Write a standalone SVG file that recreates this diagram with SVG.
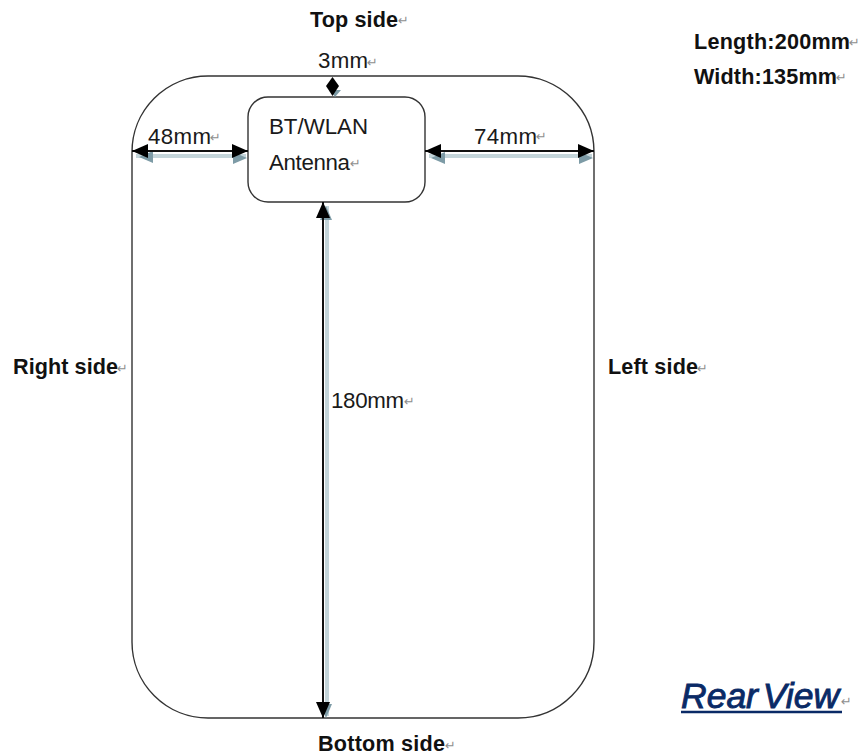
<svg xmlns="http://www.w3.org/2000/svg" width="863" height="756" viewBox="0 0 863 756">
<style>
text{font-family:"Liberation Sans",Arial,sans-serif;fill:#111}
.b{font-weight:700;font-size:21.6px}
.r{font-size:22.3px;fill:#1a1a1a}
.m{font-family:"DejaVu Sans",sans-serif;font-size:13px;fill:#8f8f8f;font-weight:400}
.s{fill:#fff;stroke:#333;stroke-width:1.4}
.l{stroke:#111;stroke-width:2;fill:none}
.sh{stroke:#c4d5da;stroke-width:4;fill:none}
.sa{fill:#7d9ba6}
</style>
<defs>
<marker id="a" viewBox="0 0 16 14" refX="16" refY="7" markerWidth="16" markerHeight="14" markerUnits="userSpaceOnUse" orient="auto-start-reverse"><path d="M0 0L16 7L0 14Z" fill="#000"/></marker>
</defs>
<g id="body"><rect class="s" x="132" y="76" width="462" height="642" rx="76" ry="76"/></g>
<g id="antenna"><rect class="s" x="248" y="97" width="177" height="105" rx="20" ry="20"/>
<text class="r" x="269" y="134" textLength="99">BT/WLAN</text>
<text class="r" x="269" y="170" textLength="81">Antenna</text><text class="m" x="350" y="168">↵</text></g>
<g id="connectors">
<path class="sh" d="M136 156H246"/><path class="sh" d="M429 156H592"/>
<path d="M136 155L150 149V161Z" class="sa" transform="translate(3 2)"/>
<path d="M246 155L232 149V161Z" class="sa" transform="translate(1 3)"/>
<path d="M429 155L443 149V161Z" class="sa" transform="translate(2 3)"/>
<path d="M592 155L578 149V161Z" class="sa" transform="translate(1 3)"/>
<path class="sh" d="M327 206V716"/>
<path d="M326 206L320 220H332Z" class="sa"/>
<path d="M326 718L320 704H332Z" class="sa"/>
<path d="M335 97L330 90H341Z" class="sa"/>
<path class="l" d="M132 151H248" marker-start="url(#a)" marker-end="url(#a)"/>
<path class="l" d="M425 151H594" marker-start="url(#a)" marker-end="url(#a)"/>
<path class="l" d="M323 202V718" marker-start="url(#a)" marker-end="url(#a)"/>
<path d="M332.500 77L339 86L332.500 96L326 86Z" fill="#000"/>
</g>
<g id="labels">
<text class="b" x="310" y="27" textLength="88">Top side</text><text class="m" x="398" y="25">↵</text>
<text class="r" x="318" y="68" textLength="50">3mm</text><text class="m" x="367" y="67">↵</text>
<text class="r" x="148" y="144" textLength="63">48mm</text><text class="m" x="210" y="142">↵</text>
<text class="r" x="474" y="144" textLength="63">74mm</text><text class="m" x="536" y="141">↵</text>
<text class="r" x="331" y="408" textLength="73">180mm</text><text class="m" x="404" y="406">↵</text>
<text class="b" x="13" y="374" textLength="105">Right side</text><text class="m" x="117" y="373">↵</text>
<text class="b" x="608" y="374" textLength="90">Left side</text><text class="m" x="697" y="373">↵</text>
<text class="b" x="318" y="751" textLength="127">Bottom side</text><text class="m" x="445" y="750">↵</text>
<text class="b" x="694" y="49" textLength="156">Length:200mm</text><text class="m" x="849" y="47">↵</text>
<text class="b" x="694" y="84" textLength="143">Width:135mm</text><text class="m" x="836" y="82">↵</text>
</g>
<g id="title">
<text x="681" y="708" font-size="35.500" font-style="italic" font-weight="400" word-spacing="-5" style="fill:#0a2a66;stroke:#0a2a66;stroke-width:.9">Rear View</text>
<path d="M681 712H842" stroke="#0a2a66" stroke-width="2.500"/>
<text class="m" x="841" y="706">↵</text>
</g>
</svg>
